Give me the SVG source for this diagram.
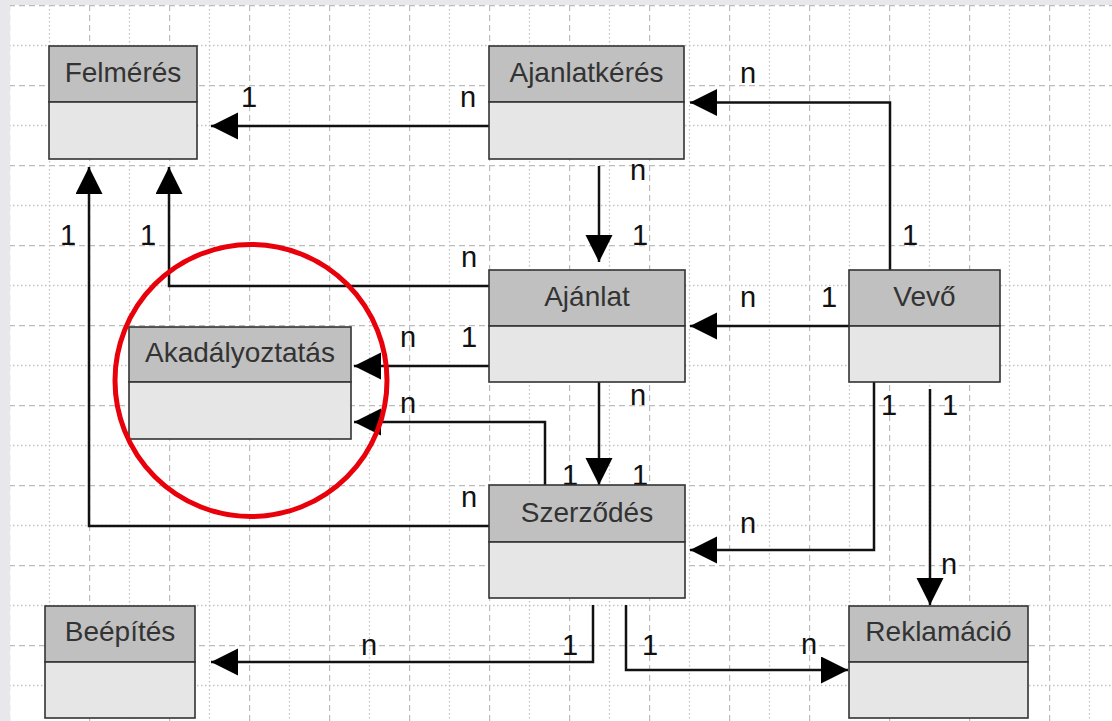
<svg xmlns="http://www.w3.org/2000/svg" width="1112" height="721" viewBox="0 0 1112 721">
<style>
.hd{fill:#c0c0c0;stroke:#333;stroke-width:1.6}
.bd{fill:#e6e6e6;stroke:#333;stroke-width:1.6}
.nt{font-family:"Liberation Sans",Arial,sans-serif;font-size:28px;fill:#333;text-anchor:middle}
.lb{font-family:"Liberation Sans",Arial,sans-serif;font-size:29px;fill:#111;text-anchor:middle}
.cn{fill:none;stroke:#111;stroke-width:2.5}
</style>
<defs>
<pattern id="grid" patternUnits="userSpaceOnUse" x="9" y="5" width="80" height="80">
<path d="M0.5,0V80" stroke="#bcbcbc" stroke-width="1.4" stroke-dasharray="6 4" fill="none"/>
<path d="M0,0.5H80" stroke="#bcbcbc" stroke-width="1.4" stroke-dasharray="6 4" fill="none"/>
<path d="M40.5,0V80" stroke="#c2c2c2" stroke-width="1.3" stroke-dasharray="1.5 2.5" fill="none"/>
<path d="M0,40.5H80" stroke="#c2c2c2" stroke-width="1.3" stroke-dasharray="1.5 2.5" fill="none"/>
</pattern>
<marker id="ah" markerUnits="userSpaceOnUse" markerWidth="28" markerHeight="28" refX="27" refY="13.5" orient="auto">
<path d="M0,0L27,13.5L0,27z" fill="#000"/>
</marker>
</defs>
<rect x="0" y="0" width="1112" height="721" fill="#e8e8ec"/>
<rect x="10" y="5" width="1102" height="716" fill="#fff"/>
<rect x="10" y="5" width="1102" height="716" fill="url(#grid)"/>

<g id="connectors">
<path class="cn" d="M489,126H211" marker-end="url(#ah)"/>
<path class="cn" d="M890,270V102.5H690" marker-end="url(#ah)"/>
<path class="cn" d="M599,166V262" marker-end="url(#ah)"/>
<path class="cn" d="M489,286H169V167" marker-end="url(#ah)"/>
<path class="cn" d="M489,526H89V167" marker-end="url(#ah)"/>
<path class="cn" d="M489,366H354" marker-end="url(#ah)"/>
<path class="cn" d="M545,485V422H354" marker-end="url(#ah)"/>
<path class="cn" d="M599,382V485" marker-end="url(#ah)"/>
<path class="cn" d="M849,326H690" marker-end="url(#ah)"/>
<path class="cn" d="M874,382V550H690" marker-end="url(#ah)"/>
<path class="cn" d="M930,389V605" marker-end="url(#ah)"/>
<path class="cn" d="M593,605V662H211" marker-end="url(#ah)"/>
<path class="cn" d="M626,605V670H848" marker-end="url(#ah)"/>
<g id="labels">
<text class="lb" x="249" y="107">1</text><text class="lb" x="468" y="107">n</text>
<text class="lb" x="748" y="83">n</text><text class="lb" x="910" y="245">1</text>
<text class="lb" x="638" y="180">n</text><text class="lb" x="640" y="245">1</text>
<text class="lb" x="469" y="267">n</text><text class="lb" x="148" y="245">1</text>
<text class="lb" x="68" y="245">1</text><text class="lb" x="469" y="507">n</text>
<text class="lb" x="408" y="347">n</text><text class="lb" x="469" y="347">1</text>
<text class="lb" x="408" y="413">n</text><text class="lb" x="570" y="485">1</text>
<text class="lb" x="638" y="405">n</text><text class="lb" x="640" y="485">1</text>
<text class="lb" x="748" y="307">n</text><text class="lb" x="829" y="307">1</text>
<text class="lb" x="889" y="415">1</text><text class="lb" x="748" y="533">n</text>
<text class="lb" x="950" y="415">1</text><text class="lb" x="949" y="574">n</text>
<text class="lb" x="570" y="655">1</text><text class="lb" x="369" y="655">n</text>
<text class="lb" x="650" y="655">1</text><text class="lb" x="809" y="654">n</text>
</g>
</g>

<g id="felmeres">
<rect class="hd" x="49" y="46" width="148" height="56"/>
<rect class="bd" x="49" y="102" width="148" height="57"/>
<text class="nt" x="123" y="82">Felmérés</text>
</g>
<g id="ajanlatkeres">
<rect class="hd" x="489" y="46" width="195" height="56"/>
<rect class="bd" x="489" y="102" width="195" height="57"/>
<text class="nt" x="586.5" y="82">Ajanlatkérés</text>
</g>
<g id="ajanlat">
<rect class="hd" x="489" y="270" width="196" height="56"/>
<rect class="bd" x="489" y="326" width="196" height="56"/>
<text class="nt" x="587" y="306">Ajánlat</text>
</g>
<g id="vevo">
<rect class="hd" x="849" y="270" width="151" height="56"/>
<rect class="bd" x="849" y="326" width="151" height="56"/>
<text class="nt" x="924.5" y="306">Vevő</text>
</g>
<g id="akadalyoztatas">
<rect class="hd" x="129" y="327" width="222" height="55"/>
<rect class="bd" x="129" y="382" width="222" height="57"/>
<text class="nt" x="240" y="362">Akadályoztatás</text>
</g>
<g id="szerzodes">
<rect class="hd" x="489" y="485" width="196" height="57"/>
<rect class="bd" x="489" y="542" width="196" height="56"/>
<text class="nt" x="587" y="522">Szerződés</text>
</g>
<g id="beepites">
<rect class="hd" x="45" y="606" width="150" height="56"/>
<rect class="bd" x="45" y="662" width="150" height="56"/>
<text class="nt" x="120" y="641">Beépítés</text>
</g>
<g id="reklamacio">
<rect class="hd" x="849" y="606" width="179" height="56"/>
<rect class="bd" x="849" y="662" width="179" height="56"/>
<text class="nt" x="938.5" y="641">Reklamáció</text>
</g>

<circle id="highlight" cx="251" cy="380.5" r="136" fill="none" stroke="#e8000b" stroke-width="5"/>
</svg>
